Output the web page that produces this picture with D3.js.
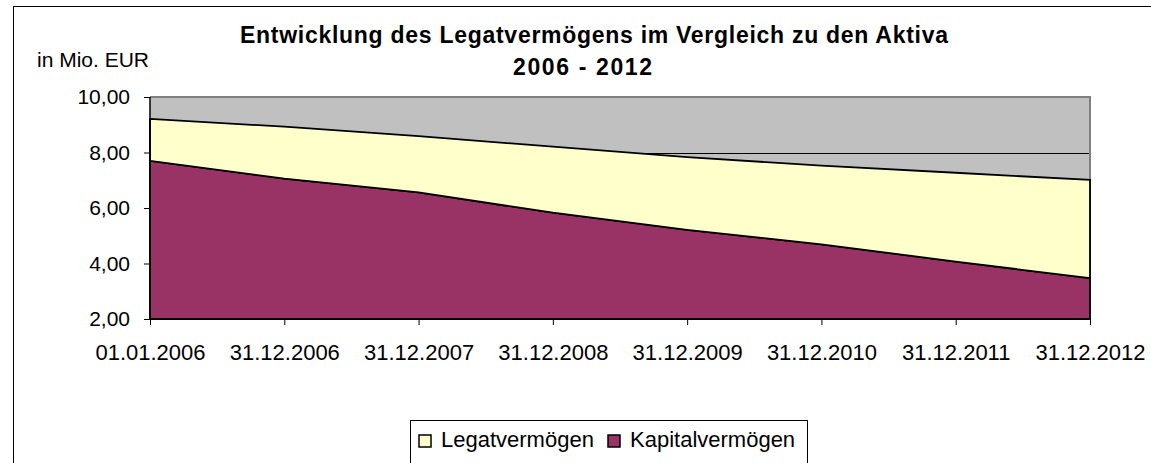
<!DOCTYPE html>
<html>
<head>
<meta charset="utf-8">
<script src="https://cdn.jsdelivr.net/npm/d3@7"></script>
<style>
  html, body { margin: 0; padding: 0; background: #fff; }
  svg { display: block; font-family: "Liberation Sans", Arial, sans-serif; }
</style>
</head>
<body>
<svg id="chart" width="1151" height="463"></svg>
<script>
// Stichtage (x-axis categories)
const dates = ["01.01.2006", "31.12.2006", "31.12.2007", "31.12.2008",
               "31.12.2009", "31.12.2010", "31.12.2011", "31.12.2012"];
// Kapitalvermögen in Mio. EUR (bottom layer)
const kapitalvermoegen = [7.70, 7.06, 6.56, 5.83, 5.21, 4.69, 4.07, 3.47];
// Legatvermögen in Mio. EUR (stacked on top)
const legatvermoegen = [1.51, 1.87, 2.03, 2.38, 2.62, 2.84, 3.20, 3.54];
// y-axis ticks
const yTicks = [2, 4, 6, 8, 10];
const seriesNames = ["Kapitalvermögen", "Legatvermögen"];
const legendOrder = ["Legatvermögen", "Kapitalvermögen"];
const titleLines = ["Entwicklung des Legatvermögens im Vergleich zu den Aktiva", "2006 - 2012"];

const colors = { "Kapitalvermögen": "#993366", "Legatvermögen": "#FFFFCC" };

const svg = d3.select("#chart");
const plot = { left: 150, right: 1090, top: 97, bottom: 319 };

const de = d3.formatLocale({ decimal: ",", thousands: ".", grouping: [3], currency: ["", " €"] });
const fmt = de.format(".2f");

const x = d3.scalePoint().domain(dates).range([plot.left, plot.right]).padding(0);
const y = d3.scaleLinear().domain([2, 10]).range([plot.bottom, plot.top]);

// chart frame
svg.append("rect")
  .attr("x", 13.5).attr("y", 6.5).attr("width", 1200).attr("height", 500)
  .attr("fill", "#fff").attr("stroke", "#000").attr("stroke-width", 1);

// plot background
svg.append("rect")
  .attr("x", plot.left).attr("y", plot.top)
  .attr("width", plot.right - plot.left).attr("height", plot.bottom - plot.top)
  .attr("fill", "#C0C0C0");

// horizontal gridlines (behind the areas)
svg.append("g")
  .selectAll("line")
  .data(yTicks)
  .join("line")
  .attr("x1", plot.left).attr("x2", plot.right)
  .attr("y1", d => Math.round(y(d)) + 0.5).attr("y2", d => Math.round(y(d)) + 0.5)
  .attr("stroke", "#000").attr("stroke-width", 1);

// plot border (top/right)
svg.append("path")
  .attr("d", `M${plot.left},${plot.top}H${plot.right}V${plot.bottom}`)
  .attr("fill", "none").attr("stroke", "#808080").attr("stroke-width", 2);

// stacked areas
const table = dates.map((d, i) => ({
  date: d,
  "Kapitalvermögen": kapitalvermoegen[i],
  "Legatvermögen": legatvermoegen[i]
}));
const stacked = d3.stack().keys(seriesNames)(table);
const yMin = y.domain()[0];
const area = d3.area()
  .x(d => x(d.data.date))
  .y0(d => y(Math.max(d[0], yMin)))
  .y1(d => y(d[1]));

svg.append("g")
  .selectAll("path")
  .data(stacked)
  .join("path")
  .attr("d", area)
  .attr("fill", s => colors[s.key])
  .attr("stroke", "#000")
  .attr("stroke-width", 1.8)
  .attr("stroke-linejoin", "miter");

// y axis
const yAxis = svg.append("g")
  .attr("transform", `translate(${plot.left},0)`)
  .call(d3.axisLeft(y).tickValues(yTicks).tickFormat(fmt).tickSize(6).tickPadding(14));
yAxis.select(".domain").attr("stroke", "#000").attr("stroke-width", 1.5)
  .attr("d", `M0,${plot.top}V${plot.bottom}`);
yAxis.selectAll(".tick line").attr("stroke", "#000");
yAxis.selectAll("text").attr("font-size", 21).attr("fill", "#000")
  .attr("font-family", "'Liberation Sans', Arial, sans-serif");

// x axis
const xAxis = svg.append("g")
  .attr("transform", `translate(0,${plot.bottom})`)
  .call(d3.axisBottom(x).tickSize(6).tickPadding(19));
xAxis.select(".domain").attr("stroke", "#000").attr("stroke-width", 1.5)
  .attr("d", `M${plot.left},0H${plot.right}`);
xAxis.selectAll(".tick line").attr("stroke", "#000");
xAxis.selectAll("text").attr("font-size", 22).attr("fill", "#000")
  .attr("font-family", "'Liberation Sans', Arial, sans-serif");

// unit label
svg.append("text")
  .attr("x", 37).attr("y", 67)
  .attr("font-size", 21).attr("fill", "#000")
  .text("in Mio. EUR");

// title
svg.append("text")
  .attr("x", 594).attr("y", 43)
  .attr("text-anchor", "middle")
  .attr("font-size", 23).attr("font-weight", "bold").attr("fill", "#000")
  .attr("textLength", 708).attr("lengthAdjust", "spacing")
  .text(titleLines[0]);
svg.append("text")
  .attr("x", 582.5).attr("y", 75)
  .attr("text-anchor", "middle")
  .attr("font-size", 23).attr("font-weight", "bold").attr("fill", "#000")
  .attr("textLength", 139).attr("lengthAdjust", "spacing")
  .text(titleLines[1]);

// legend
const legend = svg.append("g");
legend.append("rect")
  .attr("x", 410.5).attr("y", 420.5).attr("width", 397).attr("height", 60)
  .attr("fill", "#fff").attr("stroke", "#000").attr("stroke-width", 1);
const legendX = [419, 608];
const items = legend.selectAll("g.item")
  .data(legendOrder)
  .join("g")
  .attr("class", "item")
  .attr("transform", (d, i) => `translate(${legendX[i]},435)`);
items.append("rect")
  .attr("width", 12).attr("height", 12)
  .attr("fill", d => colors[d]).attr("stroke", "#000").attr("stroke-width", 1.5);
items.append("text")
  .attr("x", 22).attr("y", 12)
  .attr("font-size", 22).attr("fill", "#000")
  .text(d => d);
</script>
</body>
</html>
